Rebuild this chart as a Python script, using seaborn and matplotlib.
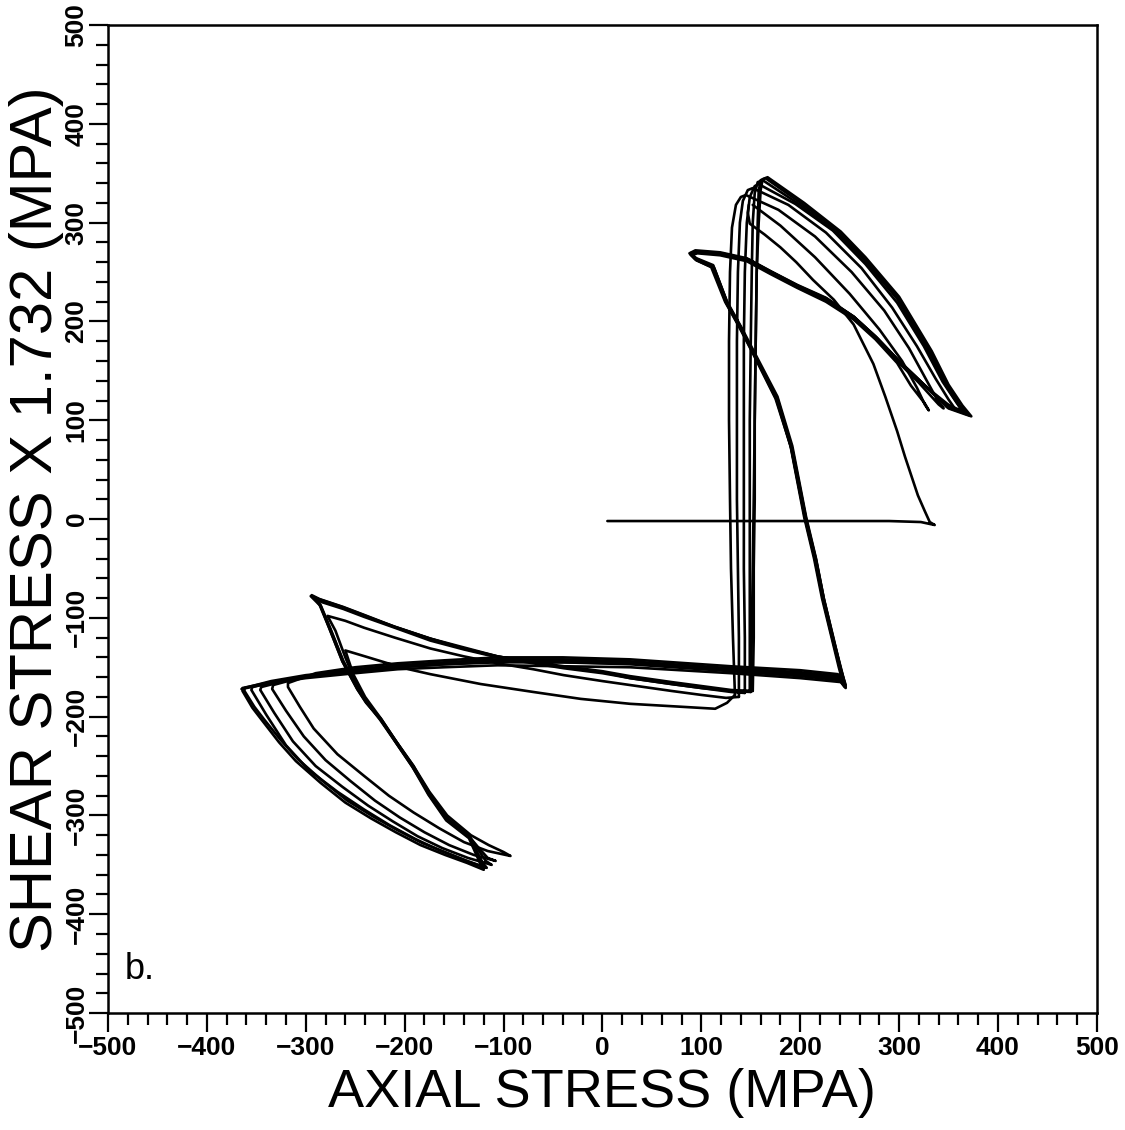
import numpy as np
import pandas as pd
import matplotlib
matplotlib.use("Agg")
import matplotlib.pyplot as plt
import seaborn as sns
from matplotlib.ticker import MultipleLocator

# ---------------------------------------------------------------------------
# Stress path data (MPa): axial stress vs. shear stress x 1.732
# ---------------------------------------------------------------------------
INIT_AXIAL = [5, 60, 120, 180, 240, 290, 322, 336, 331, 326, 319, 314, 306, 298, 286, 274, 254, 234, 213, 196, 180, 164, 149, 147, 148]
INIT_SHEAR = [-2, -2, -2, -2, -2, -2, -3, -6, -3, 8, 24, 39, 63, 89, 124, 157, 197, 222, 242, 260, 275, 288, 299, 310, 318]

CYCLE1_AXIAL = [152, 180, 215, 250, 280, 303, 318, 326, 330,
                326, 312, 298, 276, 254, 226, 197, 170, 146, 119, 96, 90, 95, 110,
                124, 138, 152, 175, 190, 204, 214, 222, 232, 239, 243,
                238, 200, 130, 28, -40, -106, -160, -207, -250, -290, -318,
                -318, -306, -292, -268, -241, -216, -191, -165, -140, -116, -93,
                -100, -115, -133, -157, -175, -191, -208, -224, -240, -252, -260,
                -240, -217, -196, -174, -123, -70, -22, 28, 80, 114, 126, 134]
CYCLE1_SHEAR = [318, 297, 265, 228, 192, 160, 133, 116, 110,
                117, 135, 158, 182, 202, 220, 234, 248, 261, 267, 269, 267, 262, 255,
                220, 195, 168, 122, 75, 2, -40, -80, -121, -150, -165,
                -157, -153, -149, -142, -140, -140, -143, -146, -150, -156, -166,
                -170, -190, -212, -238, -260, -280, -297, -313, -327, -336, -341,
                -337, -330, -320, -300, -276, -250, -226, -202, -180, -157, -133,
                -139, -146, -152, -157, -167, -175, -182, -187, -190, -192, -186, -178]

CYCLE2_AXIAL = [134, 132, 130, 129, 128, 128, 129, 131, 135, 140,
                145, 178, 215, 252, 285, 310, 328, 339, 345,
                340, 320, 298, 276, 254, 226, 197, 170, 146, 119, 95, 89, 94, 111,
                125, 139, 152, 176, 191, 205, 215, 223, 233, 240, 245,
                239, 200, 130, 28, -40, -106, -160, -207, -250, -300, -333,
                -334, -320, -302, -280, -255, -230, -205, -180, -155, -130, -108,
                -116, -125, -135, -158, -175, -192, -208, -225, -240, -249, -260, -270, -278,
                -260, -241, -210, -174, -140, -106, -70, -39, 0, 28, 70, 100, 125, 138]
CYCLE2_SHEAR = [-178, -120, -50, 20, 100, 180, 250, 295, 318, 326,
                328, 313, 286, 250, 211, 173, 140, 120, 112,
                116, 138, 160, 183, 203, 221, 235, 249, 262, 268, 270, 268, 263, 256,
                219, 194, 169, 123, 73, 1, -40, -80, -121, -151, -167,
                -159, -155, -151, -144, -142, -142, -145, -148, -152, -159, -168,
                -172, -194, -220, -244, -265, -285, -302, -317, -330, -340, -346,
                -343, -333, -321, -302, -277, -250, -226, -202, -183, -167, -140, -113, -98,
                -103, -110, -120, -131, -139, -146, -152, -158, -164, -168, -174, -178, -181, -180]

CYCLE3_AXIAL = [138, 138, 137, 136, 136, 136, 137, 139, 142, 147,
                152, 188, 226, 262, 293, 318, 337, 350, 357,
                352, 322, 299, 277, 255, 227, 198, 171, 147, 120, 95, 89, 95, 112,
                126, 140, 153, 177, 192, 206, 216, 224, 234, 241, 246,
                240, 200, 130, 28, -40, -106, -160, -207, -250, -310, -345,
                -346, -332, -313, -290, -263, -237, -212, -187, -162, -136, -112,
                -118, -134, -158, -176, -192, -209, -225, -240, -248, -263, -276, -285, -291,
                -284, -262, -241, -210, -174, -140, -106, -70, -39, 0, 28, 70, 100, 130, 144]
CYCLE3_SHEAR = [-180, -120, -50, 20, 100, 180, 250, 300, 322, 333,
                335, 318, 290, 254, 214, 175, 142, 121, 111,
                114, 138, 160, 183, 204, 222, 236, 250, 263, 269, 271, 269, 264, 257,
                220, 195, 170, 124, 74, 2, -40, -81, -122, -152, -168,
                -160, -156, -152, -145, -143, -143, -146, -149, -153, -161, -170,
                -173, -196, -225, -250, -271, -290, -306, -321, -333, -343, -350,
                -346, -322, -303, -277, -251, -226, -203, -184, -172, -144, -111, -88, -80,
                -84, -91, -99, -110, -123, -132, -140, -146, -151, -156, -161, -167, -171, -175, -176]

CYCLE4_AXIAL = [144, 144, 143, 143, 143, 143, 144, 146, 149, 154,
                158, 195, 233, 266, 298, 325, 344, 358, 365,
                360, 346, 321, 298, 276, 254, 226, 197, 170, 146, 119, 94, 89, 94, 111,
                125, 139, 152, 176, 191, 205, 215, 223, 233, 241, 245,
                240, 200, 130, 28, -40, -106, -160, -207, -250, -300, -330, -354,
                -355, -340, -320, -297, -268, -241, -215, -189, -163, -137, -117,
                -121, -134, -157, -175, -191, -208, -224, -239, -247, -262, -275, -285, -292,
                -285, -262, -241, -210, -174, -140, -106, -70, -39, 0, 28, 70, 100, 130, 149]
CYCLE4_SHEAR = [-176, -120, -50, 20, 100, 180, 250, 300, 326, 337,
                339, 319, 292, 258, 219, 175, 139, 118, 108,
                111, 117, 140, 161, 184, 205, 223, 236, 250, 263, 269, 271, 268, 264, 256,
                220, 194, 170, 124, 72, 1, -41, -81, -122, -153, -169,
                -161, -157, -153, -146, -145, -144, -147, -150, -154, -159, -164, -170,
                -173, -198, -229, -254, -276, -294, -310, -324, -336, -346, -353,
                -348, -323, -304, -278, -251, -227, -203, -185, -172, -144, -112, -88, -79,
                -82, -90, -98, -109, -121, -130, -139, -145, -149, -154, -159, -165, -169, -173, -174]

CYCLE5_AXIAL = [149, 149, 149, 149, 149, 150, 151, 152, 154, 157,
                162, 200, 238, 264, 298, 331, 348, 361, 369,
                364, 348, 320, 298, 276, 254, 226, 197, 170, 146, 119, 94, 88, 93, 112,
                126, 140, 153, 177, 192, 206, 216, 224, 234, 242, 246,
                241, 200, 130, 28, -40, -106, -160, -207, -250, -300, -335, -362,
                -362, -352, -342, -325, -308, -283, -258, -232, -207, -182, -157, -135, -118,
                -122, -134, -157, -176, -191, -208, -224, -238, -247, -262, -275, -285, -294,
                -286, -262, -241, -210, -174, -140, -106, -70, -39, 0, 28, 70, 100, 130, 152]
CYCLE5_SHEAR = [-174, -120, -50, 20, 100, 180, 250, 300, 330, 341,
                343, 318, 289, 263, 223, 168, 134, 114, 106,
                108, 114, 141, 162, 185, 205, 224, 237, 251, 264, 270, 272, 269, 264, 256,
                219, 194, 168, 122, 71, 0, -41, -81, -123, -154, -170,
                -162, -158, -153, -146, -144, -144, -146, -149, -153, -158, -164, -171,
                -174, -190, -203, -224, -243, -265, -285, -301, -315, -328, -338, -347, -353,
                -349, -322, -305, -278, -250, -226, -202, -186, -172, -144, -111, -87, -77,
                -81, -89, -97, -109, -121, -131, -139, -145, -150, -155, -160, -166, -170, -174, -174]

CYCLE6_AXIAL = [152, 153, 153, 154, 154, 155, 156, 157, 158, 160,
                165, 202, 240, 265, 299, 332, 349, 362, 371,
                366, 349, 321, 299, 277, 255, 227, 198, 171, 147, 120, 95, 89, 94, 112,
                126, 140, 153, 176, 191, 205, 215, 223, 233, 241, 245,
                240, 200, 130, 28, -40, -106, -160, -207, -250, -300, -335, -364,
                -364, -354, -344, -327, -310, -285, -260, -234, -209, -184, -159, -137, -120,
                -123, -135, -158, -176, -192, -209, -225, -239, -248, -263, -276, -286, -295,
                -287, -263, -242, -211, -175, -141, -107, -71, -40, 0, 28, 70, 100, 130, 150]
CYCLE6_SHEAR = [-174, -120, -50, 20, 100, 180, 250, 300, 332, 343,
                345, 319, 290, 264, 224, 169, 135, 114, 105,
                107, 113, 140, 161, 184, 204, 223, 236, 250, 263, 269, 271, 269, 263, 255,
                218, 193, 167, 121, 71, 0, -41, -81, -123, -154, -170,
                -163, -159, -154, -147, -145, -145, -147, -150, -154, -159, -165, -171,
                -174, -191, -204, -226, -245, -267, -287, -303, -317, -330, -340, -348, -355,
                -350, -323, -305, -279, -251, -226, -202, -186, -172, -144, -111, -87, -78,
                -81, -89, -97, -109, -121, -131, -139, -145, -150, -155, -161, -167, -171, -174, -175]

CYCLE7_AXIAL = [150, 151, 152, 153, 154, 155, 156, 158, 160, 162,
                167, 204, 241, 266, 300, 333, 350, 364, 373,
                367, 350, 322, 300, 278, 256, 228, 199, 172, 148, 121, 96, 90, 95, 113,
                127, 141, 154, 177, 192, 206, 216, 224, 234, 242, 246,
                241, 200, 130, 28, -40, -106, -160, -207, -250, -300, -335, -365]
CYCLE7_SHEAR = [-175, -120, -50, 20, 100, 180, 250, 300, 333, 344,
                346, 320, 291, 265, 225, 170, 136, 115, 104,
                106, 112, 139, 160, 183, 203, 222, 235, 249, 262, 268, 270, 268, 262, 254,
                217, 192, 166, 120, 70, -1, -42, -82, -124, -155, -171,
                -165, -161, -156, -150, -149, -148, -150, -152, -156, -161, -166, -172]

PATHS = [
    ("initial", INIT_AXIAL, INIT_SHEAR),
    ("cycle 1", CYCLE1_AXIAL, CYCLE1_SHEAR),
    ("cycle 2", CYCLE2_AXIAL, CYCLE2_SHEAR),
    ("cycle 3", CYCLE3_AXIAL, CYCLE3_SHEAR),
    ("cycle 4", CYCLE4_AXIAL, CYCLE4_SHEAR),
    ("cycle 5", CYCLE5_AXIAL, CYCLE5_SHEAR),
    ("cycle 6", CYCLE6_AXIAL, CYCLE6_SHEAR),
    ("cycle 7", CYCLE7_AXIAL, CYCLE7_SHEAR),
]

TICKS = [-500, -400, -300, -200, -100, 0, 100, 200, 300, 400, 500]
TICK_LABELS = [str(t).replace("-", "\u2212") for t in TICKS]

df = pd.concat(
    [pd.DataFrame({"axial": a, "shear": s, "path": name}) for name, a, s in PATHS],
    ignore_index=True,
)

sns.set_style("ticks")
plt.rcParams["font.family"] = ["Liberation Sans", "DejaVu Sans"]
plt.rcParams["axes.unicode_minus"] = True
for key in ["text.color", "axes.labelcolor", "xtick.color", "ytick.color",
            "axes.edgecolor"]:
    plt.rcParams[key] = "black"

fig = plt.figure(figsize=(11.25, 11.3), dpi=100)
ax = fig.add_axes([0.096, 0.1035, 0.879, 0.8743])

sns.lineplot(data=df, x="axial", y="shear", units="path", estimator=None,
             sort=False, color="black", linewidth=1.9, ax=ax, legend=False)

ax.set_xlim(-500, 500)
ax.set_ylim(-500, 500)

ax.set_xticks(TICKS, labels=TICK_LABELS, fontsize=19, fontweight="bold")
ax.set_yticks(TICKS, labels=TICK_LABELS, fontsize=19, fontweight="bold",
              rotation=90, va="center")
ax.xaxis.set_minor_locator(MultipleLocator(20))
ax.yaxis.set_minor_locator(MultipleLocator(20))

ax.tick_params(which="major", direction="out", length=13.5, width=1.6,
               pad=3, top=False, right=False)
ax.tick_params(which="minor", direction="out", length=8.5, width=1.6,
               top=False, right=False)
ax.tick_params(axis="y", which="major", pad=0.5)

for side in ["left", "right", "top", "bottom"]:
    ax.spines[side].set_visible(True)
    ax.spines[side].set_linewidth(1.8)

ax.set_xlabel("AXIAL STRESS (MPA)", fontsize=39)
ax.xaxis.set_label_coords(0.5, -0.056)
ax.set_ylabel("SHEAR STRESS X 1.732 (MPA)", fontsize=43)
ax.yaxis.set_label_coords(-0.045, 0.5)

ax.text(-483, -466, "b.", fontsize=26, ha="left", va="baseline")

fig.savefig("out.png", dpi=100, facecolor="white")
